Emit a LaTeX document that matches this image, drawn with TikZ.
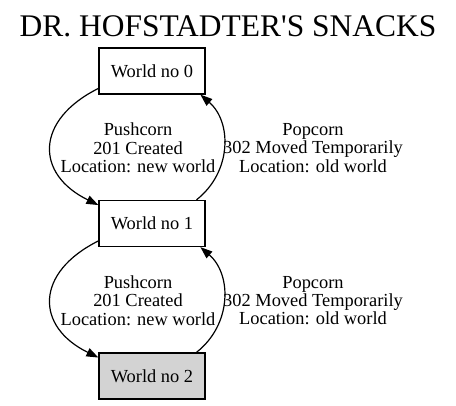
\documentclass[tikz,border=0pt]{standalone}
\usepackage{fontspec}
\setmainfont{Liberation Serif}
\usetikzlibrary{arrows.meta}
\definecolor{lightgrey}{HTML}{D3D3D3}

\begin{document}
\begin{tikzpicture}[x=0.75pt, y=-0.75pt,
  world/.style={draw, line width=0.9pt, minimum width=79.5pt, minimum height=34.5pt, inner sep=0pt, font=\fontsize{13.8}{14}\selectfont},
  lbl/.style={align=center, font=\fontsize{13.8}{13.8}\selectfont},
  snackarrow/.style={line width=0.9pt, -{Triangle[length=9pt,width=6.5pt]}}]

  \useasboundingbox (0,0) rectangle (456,405);

  % Title
  \node[anchor=base, font=\fontsize{23.6}{24}\selectfont] (title) at (228,36) {DR. HOFSTADTER\textquotesingle S SNACKS};

  % Worlds
  \node[world] (w0) at (152,71) {World no 0};
  \node[world] (w1) at (152,223.5) {World no 1};
  \node[world, fill=lightgrey] (w2) at (152,376) {World no 2};

  % Pushcorn and popcorn
  \draw[snackarrow] (w0.198) .. controls (35,120) and (35,174) .. (w1.161);
  \draw[snackarrow] (w1.28) .. controls (232,172) and (232,122) .. (w0.334);
  \draw[snackarrow] (w1.198) .. controls (35,272.5) and (35,326.5) .. (w2.161);
  \draw[snackarrow] (w2.28) .. controls (232,324.5) and (232,274.5) .. (w1.334);

  \node[lbl] (push1) at (138,148) {Pushcorn\\201 Created\\Location: new world};
  \node[lbl] (pop1) at (313,148) {Popcorn\\302 Moved Temporarily\\Location: old world};
  \node[lbl] (push2) at (138,300.5) {Pushcorn\\201 Created\\Location: new world};
  \node[lbl] (pop2) at (313,300.5) {Popcorn\\302 Moved Temporarily\\Location: old world};

\end{tikzpicture}
\end{document}
